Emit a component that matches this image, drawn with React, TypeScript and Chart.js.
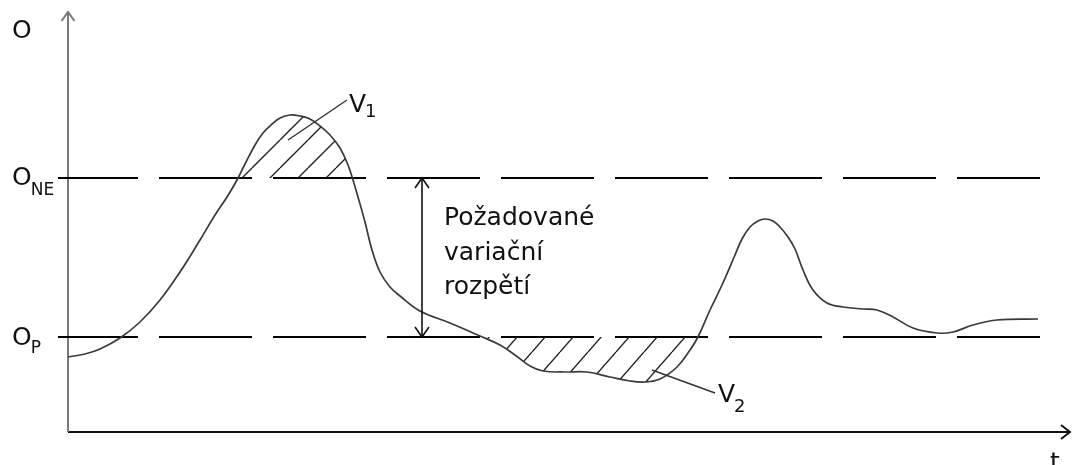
import React, { useEffect, useRef } from "react";
import { Chart, registerables } from "chart.js";

Chart.register(...registerables);

// ---- data (t in arbitrary time units, O in arbitrary units above the t axis) ----
const curveT = [0, 17, 32, 52, 72, 92, 112, 132, 147, 159, 169, 177, 187, 195, 204, 212, 222, 232, 242, 252, 262, 272, 280, 285, 290, 297, 304, 312, 322, 332, 352, 382, 412, 432, 447, 462, 475, 497, 519, 542, 562, 577, 592, 609, 622, 630, 642, 654, 667, 674, 682, 690, 697, 705, 712, 720, 727, 735, 745, 759, 775, 795, 809, 825, 845, 869, 885, 905, 929, 970];
const curveO = [75, 78, 83, 94, 110, 132, 160, 192, 217, 235, 252, 268, 287, 299, 308, 314, 317, 316, 313, 306, 297, 284, 267, 252, 235, 210, 182, 160, 145, 136, 121, 109, 96, 87, 77, 66, 61, 60, 60, 55, 51, 50, 53, 65, 82, 95, 122, 147, 177, 193, 205, 211, 213, 211, 205, 195, 183, 162, 142, 129, 125, 123, 122, 115, 104, 99, 100, 107, 112, 113];

const levelNE = 254; // O_NE
const levelP = 95; // O_P
const levelLabels = ["NE", "P"];
const levelStart = -10;
const levelEnd = 972;

const axisTEnd = 1002;
const axisOEnd = 420;
const yAxisLabel = "O";
const xAxisLabel = "t";

const rangeArrowT = 354;
const rangeText = ["Požadované", "variační", "rozpětí"];

const v1Leader = [
  { x: 220, y: 292 },
  { x: 279, y: 332 },
];
const v2Leader = [
  { x: 584, y: 62 },
  { x: 647, y: 39 },
];
const regionLabels = ["1", "2"];

// V2 region: part of the curve between the two O_P crossings
const v2FromT = 382;
const v2ToT = 642;

const FONT = '"DejaVu Sans"';

function makeHatch(ctx: CanvasRenderingContext2D, w: number, h: number) {
  const c = document.createElement("canvas");
  c.width = w;
  c.height = h;
  const g = c.getContext("2d")!;
  g.strokeStyle = "#222";
  g.lineWidth = 1.4;
  g.beginPath();
  for (const off of [-w, 0, w]) {
    g.moveTo(off, h);
    g.lineTo(off + w, 0);
  }
  g.stroke();
  return ctx.createPattern(c, "repeat")!;
}

function chevron(ctx: CanvasRenderingContext2D, tx: number, ty: number, dx: number, dy: number, len: number, half: number) {
  const bx = tx - dx * len;
  const by = ty - dy * len;
  const px = -dy;
  const py = dx;
  ctx.beginPath();
  ctx.moveTo(bx + px * half, by + py * half);
  ctx.lineTo(tx, ty);
  ctx.lineTo(bx - px * half, by - py * half);
  ctx.stroke();
}

function subText(ctx: CanvasRenderingContext2D, main: string, sub: string, x: number, y: number, subDy: number, size: number, subSize: number) {
  ctx.font = `${size}px ${FONT}`;
  ctx.fillText(main, x, y);
  const w = ctx.measureText(main).width;
  ctx.font = `${subSize}px ${FONT}`;
  ctx.fillText(sub, x + w - 1, y + subDy);
}

const annotPlugin = {
  id: "annot",
  afterDatasetsDraw(chart: any) {
    const { ctx, scales } = chart;
    const X = (v: number) => scales.x.getPixelForValue(v);
    const Y = (v: number) => scales.y.getPixelForValue(v);
    ctx.save();
    ctx.lineCap = "butt";
    // axis arrowheads
    ctx.strokeStyle = "#777";
    ctx.lineWidth = 2;
    chevron(ctx, X(0), Y(axisOEnd), 0, -1, 9, 6.5);
    ctx.strokeStyle = "#111";
    chevron(ctx, X(axisTEnd), Y(0), 1, 0, 9, 7);

    // range double arrow
    ctx.strokeStyle = "#111";
    ctx.lineWidth = 1.6;
    const ax = X(rangeArrowT);
    ctx.beginPath();
    ctx.moveTo(ax, Y(levelNE));
    ctx.lineTo(ax, Y(levelP));
    ctx.stroke();
    chevron(ctx, ax, Y(levelNE), 0, -1, 10, 7);
    chevron(ctx, ax, Y(levelP), 0, 1, 10, 7);

    // leader lines
    ctx.strokeStyle = "#333";
    ctx.lineWidth = 1.4;
    for (const l of [v1Leader, v2Leader]) {
      ctx.beginPath();
      ctx.moveTo(X(l[0].x), Y(l[0].y));
      ctx.lineTo(X(l[1].x), Y(l[1].y));
      ctx.stroke();
    }

    ctx.fillStyle = "#111";
    ctx.textBaseline = "alphabetic";
    ctx.textAlign = "left";
    // axis labels
    ctx.font = `25px ${FONT}`;
    ctx.fillText(yAxisLabel, X(0) - 56, Y(axisOEnd) + 26);
    ctx.fillText(xAxisLabel, X(axisTEnd) - 20, Y(0) + 38);
    // level labels
    subText(ctx, yAxisLabel, levelLabels[0], X(0) - 56, Y(levelNE) + 7, 10, 25, 17);
    subText(ctx, yAxisLabel, levelLabels[1], X(0) - 56, Y(levelP) + 8, 8, 25, 17);
    // region labels
    subText(ctx, "V", regionLabels[0], X(v1Leader[1].x) + 2, Y(v1Leader[1].y) + 12, 5, 25, 18);
    subText(ctx, "V", regionLabels[1], X(v2Leader[1].x) + 3, Y(v2Leader[1].y) + 9, 10, 25, 18);
    // range text
    ctx.font = `25px ${FONT}`;
    const tx = ax + 22;
    const baseY = Y(levelNE) + 47;
    rangeText.forEach((s, i) => ctx.fillText(s, tx, baseY + i * 34.5));
    ctx.restore();
  },
};

export default function App() {
  const ref = useRef<HTMLCanvasElement>(null);
  useEffect(() => {
    const canvas = ref.current!;
    const ctx = canvas.getContext("2d")!;
    const hatch1 = makeHatch(ctx, 28, 28);
    const hatch2 = makeHatch(ctx, 28, 32);
    const curve = curveT.map((t, i) => ({ x: t, y: curveO[i] }));
    const v2Curve = curve.filter((p) => p.x >= v2FromT && p.x <= v2ToT);
    const chart = new Chart(canvas, {
      type: "line",
      data: {
        datasets: [
          {
            data: curve,
            borderColor: "#3a3a3a",
            borderWidth: 1.7,
            pointRadius: 0,
            tension: 0.4,
            fill: { target: { value: levelNE }, above: hatch1, below: "rgba(0,0,0,0)" },
          },
          {
            data: v2Curve,
            borderWidth: 0,
            borderColor: "rgba(0,0,0,0)",
            pointRadius: 0,
            tension: 0.4,
            fill: { target: { value: levelP }, above: "rgba(0,0,0,0)", below: hatch2 },
          },
          {
            data: [
              { x: levelStart, y: levelNE },
              { x: levelEnd, y: levelNE },
            ],
            borderColor: "#000",
            borderWidth: 1.8,
            borderDash: [93, 21],
            borderDashOffset: 13,
            pointRadius: 0,
            fill: false,
          },
          {
            data: [
              { x: levelStart, y: levelP },
              { x: levelEnd, y: levelP },
            ],
            borderColor: "#000",
            borderWidth: 1.8,
            borderDash: [93, 21],
            borderDashOffset: 13,
            pointRadius: 0,
            fill: false,
          },
          {
            data: [
              { x: 0, y: 0 },
              { x: 0, y: axisOEnd },
            ],
            borderColor: "#7a7a7a",
            borderWidth: 2,
            pointRadius: 0,
            fill: false,
          },
          {
            data: [
              { x: 0, y: 0 },
              { x: axisTEnd, y: 0 },
            ],
            borderColor: "#111",
            borderWidth: 2,
            pointRadius: 0,
            fill: false,
          },
        ],
      },
      options: {
        animation: false,
        responsive: false,
        devicePixelRatio: 1,
        layout: { padding: 0 },
        events: [],
        scales: {
          x: { type: "linear", min: -68, max: 1004, display: false },
          y: { type: "linear", min: -33, max: 432, display: false },
        },
        plugins: {
          legend: { display: false },
          tooltip: { enabled: false },
        },
      },
      plugins: [annotPlugin],
    } as any);
    return () => chart.destroy();
  }, []);
  return (
    <div style={{ position: "fixed", left: 0, top: 0, width: 1072, height: 465, background: "#fff" }}>
      <canvas ref={ref} width={1072} height={465} style={{ display: "block" }} />
    </div>
  );
}
